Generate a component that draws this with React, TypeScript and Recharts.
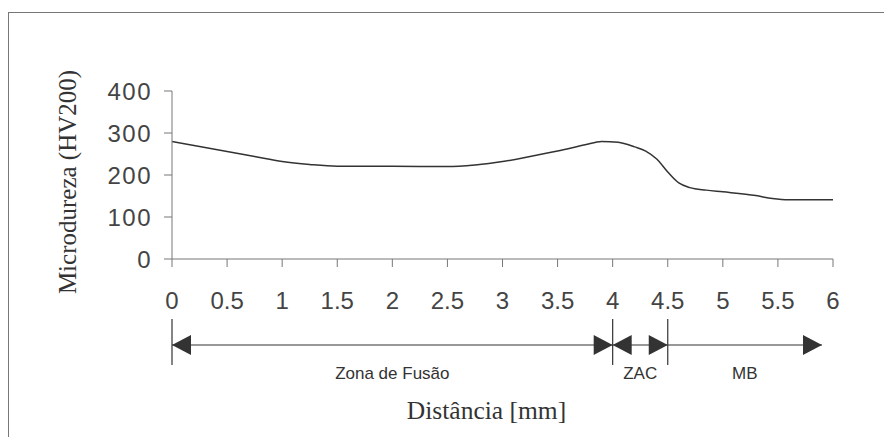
import { ComposedChart, Line, XAxis, YAxis, ReferenceLine } from 'recharts';

const distance = [0, 0.25, 0.5, 0.75, 1, 1.25, 1.5, 2, 2.5, 2.75, 3, 3.25, 3.5, 3.75, 3.9, 4.05, 4.2, 4.3, 4.4, 4.5, 4.6, 4.7, 4.85, 5, 5.3, 5.45, 5.6, 6];
const hardness = [280, 268, 256, 244, 232, 225, 221, 221, 220, 224, 232, 244, 257, 272, 280, 278, 267, 257, 238, 207, 181, 170, 164, 160, 151, 144, 141, 141];

const xTicks = [0, 0.5, 1, 1.5, 2, 2.5, 3, 3.5, 4, 4.5, 5, 5.5, 6];
const yTicks = [0, 100, 200, 300, 400];

const zoneNames = ['Zona de Fusão', 'ZAC', 'MB'];
const zoneStart = [0, 4, 4.5];
const zoneEnd = [4, 4.5, 5.9];
const zoneLeftArrow = [true, true, false];

const data = distance.map((d, i) => ({ d, hv: hardness[i] }));

const INK = '#333';
const AXIS = '#777';

function zoneShape(i: number) {
  return (p: any) => {
    const { x1, x2, y1 } = p;
    const yy = y1 + 86;
    const L = 19;
    const H = 10;
    return (
      <g>
        <line x1={x1} y1={yy} x2={x2} y2={yy} stroke={INK} strokeWidth={1.2} />
        <line x1={x1} y1={yy - 26} x2={x1} y2={yy + 20} stroke={INK} strokeWidth={1.2} />
        {zoneLeftArrow[i] && (
          <polygon points={`${x1},${yy} ${x1 + L},${yy - H} ${x1 + L},${yy + H}`} fill={INK} />
        )}
        <polygon points={`${x2},${yy} ${x2 - L},${yy - H} ${x2 - L},${yy + H}`} fill={INK} />
        <text
          x={(x1 + x2) / 2}
          y={yy + 28}
          textAnchor="middle"
          dominantBaseline="central"
          fontFamily="'Liberation Sans', Arial, sans-serif"
          fontSize={17}
          fill={INK}
        >
          {zoneNames[i]}
        </text>
      </g>
    );
  };
}

const tickFont = {
  fontSize: 24,
  fill: '#444',
  fontFamily: "'Liberation Sans', Arial, sans-serif",
};

export default function App() {
  return (
    <div style={{ paddingTop: 4 }}>
      <div style={{ borderTop: `1px solid ${AXIS}`, borderLeft: `1px solid ${AXIS}`, width: 883 }}>
        <ComposedChart
          width={883}
          height={424}
          data={data}
          margin={{ top: 78, right: 59, bottom: 0, left: 0 }}
        >
          <XAxis
            dataKey="d"
            type="number"
            domain={[0, 6]}
            ticks={xTicks}
            interval={0}
            height={178}
            stroke={AXIS}
            tickSize={8}
            tickMargin={25}
            tick={tickFont}
            label={{
              content: (lp: any) => {
                const vb = lp.viewBox;
                return (
                  <text
                    x={vb.x + vb.width / 2 - 16}
                    y={vb.y + 151}
                    textAnchor="middle"
                    dominantBaseline="central"
                    fontFamily="'Liberation Serif', 'Times New Roman', serif"
                    fontSize={25.5}
                    fill={INK}
                  >
                    Distância [mm]
                  </text>
                );
              },
            }}
          />
          <YAxis
            type="number"
            domain={[0, 400]}
            ticks={yTicks}
            interval={0}
            width={163}
            stroke={AXIS}
            tickSize={8}
            tickMargin={12}
            tick={{ ...tickFont, letterSpacing: 1.5 }}
            label={{
              content: (lp: any) => {
                const vb = lp.viewBox;
                const cx = vb.x + 58;
                const cy = vb.y + vb.height / 2 + 7;
                return (
                  <text
                    x={cx}
                    y={cy}
                    transform={`rotate(-90, ${cx}, ${cy})`}
                    textAnchor="middle"
                    dominantBaseline="central"
                    fontFamily="'Liberation Serif', 'Times New Roman', serif"
                    fontSize={25}
                    fill={INK}
                  >
                    Microdureza (HV200)
                  </text>
                );
              },
            }}
          />
          <Line
            type="monotone"
            dataKey="hv"
            stroke={INK}
            strokeWidth={1.5}
            dot={false}
            isAnimationActive={false}
          />
          {zoneNames.map((name, i) => (
            <ReferenceLine
              key={name}
              segment={[
                { x: zoneStart[i], y: 0 },
                { x: zoneEnd[i], y: 0 },
              ]}
              ifOverflow="visible"
              shape={zoneShape(i)}
            />
          ))}
        </ComposedChart>
      </div>
    </div>
  );
}
